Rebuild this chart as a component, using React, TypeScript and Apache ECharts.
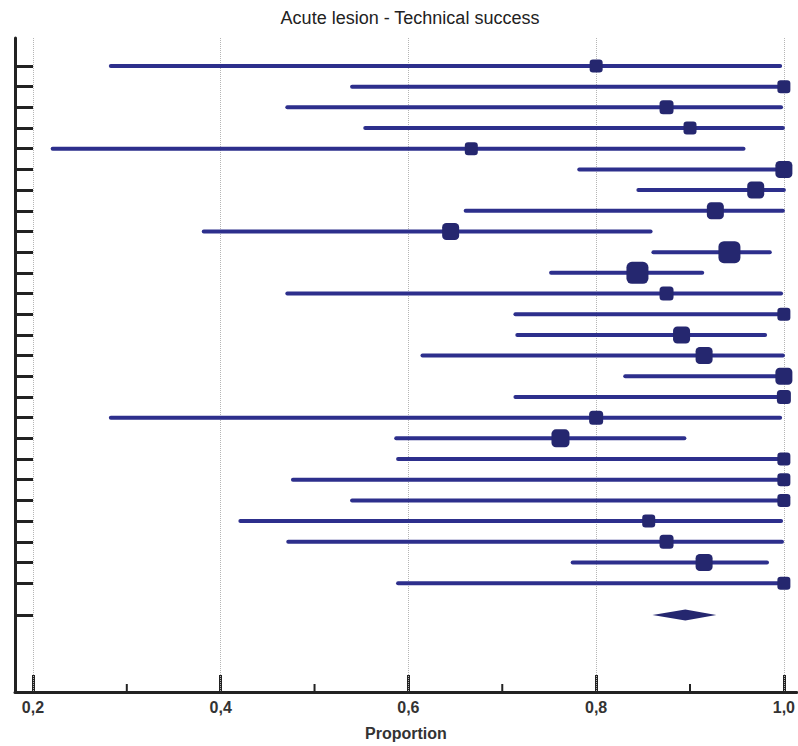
import React, { useEffect, useRef } from "react";
import * as echarts from "echarts";

// Study rows (top to bottom)
const studyRows = [1, 2, 3, 4, 5, 6, 7, 8, 9, 10, 11, 12, 13, 14, 15, 16, 17, 18, 19, 20, 21, 22, 23, 24, 25, 26];
const estimates = [0.80, 1.0, 0.875, 0.90, 0.667, 1.0, 0.97, 0.927, 0.645, 0.942, 0.844, 0.875, 1.0, 0.891, 0.915, 1.0, 1.0, 0.80, 0.762, 1.0, 1.0, 1.0, 0.856, 0.875, 0.915, 1.0];
const lower = [0.283, 0.540, 0.471, 0.554, 0.221, 0.782, 0.845, 0.661, 0.382, 0.861, 0.752, 0.471, 0.714, 0.716, 0.615, 0.831, 0.714, 0.283, 0.587, 0.589, 0.477, 0.540, 0.421, 0.472, 0.775, 0.589];
const upper = [0.996, 1.0, 0.997, 0.999, 0.957, 1.0, 1.0, 0.999, 0.858, 0.985, 0.913, 0.997, 1.0, 0.980, 0.999, 1.0, 1.0, 0.996, 0.894, 1.0, 1.0, 1.0, 0.997, 0.998, 0.982, 1.0];
const weights = [13, 13, 14, 13, 13, 17, 17, 17, 17, 22, 22, 14, 13, 17, 17, 17, 14, 14, 18, 13, 13, 13, 13, 14, 17, 13];

// Pooled estimate
const pooledRow = 27.54;
const pooledEst = 0.895;
const pooledLow = 0.86;
const pooledHigh = 0.928;

// Axis ticks
const majorTicks = [0.2, 0.4, 0.6, 0.8, 1.0];
const minorTicks = [0.3, 0.5, 0.7, 0.9];
const gridValues = [0.2, 0.4, 0.6, 0.8, 1.0];

const LINE_COLOR = "#2D2F8C";
const BOX_COLOR = "#25276F";
const AXIS_COLOR = "#222222";
const FONT = "Liberation Sans, Arial, sans-serif";

export default function App() {
  const ref = useRef<HTMLDivElement>(null);

  useEffect(() => {
    if (!ref.current) return;
    const chart = echarts.init(ref.current, null, { renderer: "svg" });

    const xMin = 0.1809;
    const xMax = 1.0138;
    const yMin = -0.351;
    const yMax = 31.26;

    const option: any = {
      animation: false,
      backgroundColor: "#ffffff",
      textStyle: { fontFamily: FONT },
      title: {
        text: "Acute lesion - Technical success",
        left: 410,
        top: 9,
        textAlign: "center",
        padding: 0,
        textStyle: {
          fontSize: 18,
          fontWeight: "normal",
          color: "#222",
          fontFamily: FONT,
        },
      },
      grid: { left: 15, right: 0, top: 38, bottom: 53, containLabel: false },
      xAxis: {
        type: "value",
        min: xMin,
        max: xMax,
        position: "bottom",
        name: "Proportion",
        nameLocation: "middle",
        nameGap: 33,
        nameTextStyle: { fontSize: 16, fontWeight: "bold", color: "#333", fontFamily: FONT },
        axisLine: { show: true, onZero: false, lineStyle: { color: AXIS_COLOR, width: 3 } },
        axisTick: {
          show: true,
          inside: true,
          length: 17,
          lineStyle: { color: AXIS_COLOR, width: 3 },
          customValues: majorTicks,
        },
        axisLabel: {
          show: true,
          margin: 7,
          fontSize: 16,
          fontWeight: "bold",
          color: "#333",
          customValues: majorTicks,
          formatter: (v: number) => v.toFixed(1).replace(".", ","),
        },
        splitLine: { show: false },
      },
      yAxis: {
        type: "value",
        inverse: true,
        min: yMin,
        max: yMax,
        axisLine: { show: true, onZero: false, lineStyle: { color: AXIS_COLOR, width: 3 } },
        axisTick: {
          show: true,
          inside: true,
          length: 18,
          lineStyle: { color: AXIS_COLOR, width: 3 },
          customValues: [...studyRows, pooledRow],
        },
        axisLabel: { show: false },
        splitLine: { show: false },
      },
      series: [
        {
          type: "custom",
          name: "ci",
          z: 3,
          data: studyRows.map((r, i) => [lower[i], upper[i], r]),
          encode: { x: [0, 1], y: 2 },
          renderItem: (params: any, api: any) => {
            const p1 = api.coord([api.value(0), api.value(2)]);
            const p2 = api.coord([api.value(1), api.value(2)]);
            return {
              type: "line",
              shape: { x1: p1[0], y1: p1[1], x2: p2[0], y2: p2[1] },
              style: { stroke: LINE_COLOR, lineWidth: 4, lineCap: "round" },
            };
          },
          markLine: {
            silent: true,
            symbol: "none",
            label: { show: false },
            lineStyle: { type: "dotted", color: "#b5b5b5", width: 1 },
            data: gridValues.map((v) => ({ xAxis: v })),
            z: 1,
          },
        },
        {
          type: "custom",
          name: "minorTicks",
          z: 5,
          clip: false,
          silent: true,
          data: minorTicks.map((v) => [v, yMax]),
          encode: { x: 0, y: 1 },
          renderItem: (params: any, api: any) => {
            const p = api.coord([api.value(0), api.value(1)]);
            return {
              type: "line",
              shape: { x1: p[0], y1: p[1], x2: p[0], y2: p[1] - 8 },
              style: { stroke: AXIS_COLOR, lineWidth: 2 },
            };
          },
        },
        {
          type: "scatter",
          name: "estimates",
          z: 4,
          symbol: "roundRect",
          symbolSize: (v: number[]) => v[2],
          itemStyle: { color: BOX_COLOR, opacity: 1 },
          data: studyRows.map((r, i) => [estimates[i], r, weights[i]]),
        },
        {
          type: "custom",
          name: "pooled",
          z: 4,
          data: [[pooledLow, pooledEst, pooledHigh, pooledRow]],
          encode: { x: [0, 1, 2], y: 3 },
          renderItem: (params: any, api: any) => {
            const y = api.value(3);
            const a = api.coord([api.value(0), y]);
            const b = api.coord([api.value(1), y]);
            const c = api.coord([api.value(2), y]);
            const h = 5.5;
            return {
              type: "polygon",
              shape: {
                points: [
                  [a[0], a[1]],
                  [b[0], b[1] - h],
                  [c[0], c[1]],
                  [b[0], b[1] + h],
                ],
              },
              style: { fill: BOX_COLOR },
            };
          },
        },
      ],
    };

    chart.setOption(option);
    return () => chart.dispose();
  }, []);

  return (
    <div
      ref={ref}
      style={{ position: "absolute", left: 0, top: 0, width: 798, height: 746 }}
    />
  );
}
